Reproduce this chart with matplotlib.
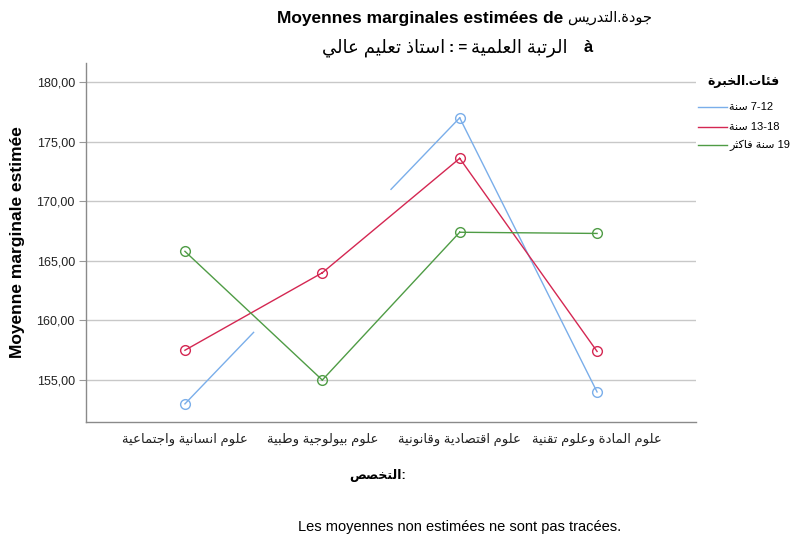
import numpy as np
import matplotlib
matplotlib.use("Agg")
import matplotlib.pyplot as plt
from matplotlib.lines import Line2D

plt.rcParams['font.family'] = ['Liberation Sans', 'DejaVu Sans']

# ---------------- minimal Arabic shaping (presentation forms) ----------------
_FORMS = {
    'ء': (0xFE80, 1), 'آ': (0xFE81, 2), 'أ': (0xFE83, 2), 'ؤ': (0xFE85, 2), 'إ': (0xFE87, 2),
    'ئ': (0xFE89, 4), 'ا': (0xFE8D, 2), 'ب': (0xFE8F, 4), 'ة': (0xFE93, 2), 'ت': (0xFE95, 4),
    'ث': (0xFE99, 4), 'ج': (0xFE9D, 4), 'ح': (0xFEA1, 4), 'خ': (0xFEA5, 4), 'د': (0xFEA9, 2),
    'ذ': (0xFEAB, 2), 'ر': (0xFEAD, 2), 'ز': (0xFEAF, 2), 'س': (0xFEB1, 4), 'ش': (0xFEB5, 4),
    'ص': (0xFEB9, 4), 'ض': (0xFEBD, 4), 'ط': (0xFEC1, 4), 'ظ': (0xFEC5, 4), 'ع': (0xFEC9, 4),
    'غ': (0xFECD, 4), 'ف': (0xFED1, 4), 'ق': (0xFED5, 4), 'ك': (0xFED9, 4), 'ل': (0xFEDD, 4),
    'م': (0xFEE1, 4), 'ن': (0xFEE5, 4), 'ه': (0xFEE9, 4), 'و': (0xFEED, 2), 'ى': (0xFEEF, 2),
    'ي': (0xFEF1, 4),
}
_LAM_ALEF = {'ا': 0xFEFB, 'أ': 0xFEF7, 'إ': 0xFEF9, 'آ': 0xFEF5}


def _shape(s):
    ch = list(s)
    n = len(ch)
    out = []
    i = 0
    while i < n:
        c = ch[i]
        if c not in _FORMS:
            out.append(c)
            i += 1
            continue
        prev = ch[i - 1] if i > 0 else None
        joins_prev = prev in _FORMS and _FORMS[prev][1] == 4
        if c == 'ل' and i + 1 < n and ch[i + 1] in _LAM_ALEF:
            out.append(chr(_LAM_ALEF[ch[i + 1]] + (1 if joins_prev else 0)))
            i += 2
            continue
        nxt = ch[i + 1] if i + 1 < n else None
        base, nf = _FORMS[c]
        joins_next = nf == 4 and nxt in _FORMS
        if nf == 1:
            f = 0
        elif joins_prev and joins_next:
            f = 3
        elif joins_prev:
            f = 1
        elif joins_next:
            f = 2
        else:
            f = 0
        out.append(chr(base + f))
        i += 1
    return ''.join(out)


def ar(s):
    """Shape an Arabic run and put it in visual (left-to-right) order."""
    return _shape(s)[::-1]


# ---------------- data ----------------
categories = ['علوم انسانية واجتماعية', 'علوم بيولوجية وطبية',
              'علوم اقتصادية وقانونية', 'علوم المادة وعلوم تقنية']
series_names = ['7-12', '13-18', '19']
series_words = ['سنة', 'سنة', 'سنة فاكثر']
means_7_12 = [153.0, np.nan, 177.0, 154.0]
means_13_18 = [157.5, 164.0, 173.6, 157.4]
means_19 = [165.8, 155.0, 167.4, 167.3]
yticks = [155, 160, 165, 170, 175, 180]

colors = ['#7aaeea', '#d42752', '#4f9c45']
all_series = [means_7_12, means_13_18, means_19]

W, H = 792, 539
fig = plt.figure(figsize=(W / 100, H / 100), dpi=100)
ax = fig.add_axes([86 / W, 1 - 422 / H, (696 - 86) / W, (422 - 63) / H])

x = np.arange(1, len(categories) + 1, dtype=float)


def spss_path(xv, yv):
    """SPSS replaces a missing mean by the mean of its neighbours and draws
    only the half-segments that touch estimated points."""
    yv = np.asarray(yv, dtype=float)
    filled = yv.copy()
    for i in range(len(yv)):
        if np.isnan(yv[i]):
            nb = [yv[j] for j in (i - 1, i + 1) if 0 <= j < len(yv) and not np.isnan(yv[j])]
            filled[i] = np.mean(nb) if nb else np.nan
    px, py = [], []
    for i in range(len(yv) - 1):
        a, b = yv[i], yv[i + 1]
        if not np.isnan(a) and not np.isnan(b):
            px += [xv[i], xv[i + 1], np.nan]
            py += [a, b, np.nan]
        elif not np.isnan(a):
            px += [xv[i], (xv[i] + xv[i + 1]) / 2, np.nan]
            py += [a, (a + filled[i + 1]) / 2, np.nan]
        elif not np.isnan(b):
            px += [(xv[i] + xv[i + 1]) / 2, xv[i + 1], np.nan]
            py += [(filled[i] + b) / 2, b, np.nan]
    return px, py


for vals, col in zip(all_series, colors):
    px, py = spss_path(x, vals)
    ax.plot(px, py, color=col, lw=1.0, zorder=3)
    ax.plot(x, vals, linestyle='none', marker='o', markersize=7,
            markerfacecolor='none', markeredgecolor=col, markeredgewidth=1.0, zorder=4)

ax.set_xlim(0.28, 4.72)
ax.set_ylim(151.48, 181.6)
ax.set_yticks(yticks)
ax.set_yticklabels([f"{v:.2f}".replace('.', ',') for v in yticks], fontsize=9, color='#222222')
ax.set_xticks(x)
ax.set_xticklabels([ar(c) for c in categories], fontsize=9.5, color='#222222')
ax.tick_params(axis='x', length=0, pad=8)
ax.tick_params(axis='y', length=5, color='#999999', pad=3)
ax.yaxis.grid(True, color='#c8c8c8', lw=1.0)
ax.set_axisbelow(True)
for s in ['top', 'right']:
    ax.spines[s].set_visible(False)
for s in ['left', 'bottom']:
    ax.spines[s].set_color('#8a8a8a')
    ax.spines[s].set_linewidth(1.0)

ax.set_ylabel('Moyenne marginale estimée', fontsize=12.5, fontweight='bold', labelpad=8)

# x axis title
fig.text(378 / W, 1 - 476 / H, ar('التخصص') + ':', ha='center', va='center',
         fontsize=9, fontweight='bold')

# titles
fig.text(563 / W, 1 - 18 / H, 'Moyennes marginales estimées de', ha='right',
         va='center', fontsize=12.5, fontweight='bold')
fig.text(567 / W, 1 - 18 / H, ar('جودة.التدريس'), ha='left', va='center', fontsize=10.5)

# subtitle: "à <variable> = <value>" laid out right-to-left
fig.text(445 / W, 1 - 48 / H, ar('استاذ تعليم عالي'), ha='right', va='center', fontsize=13)
fig.text(458 / W, 1 - 48 / H, ': =', ha='center', va='center', fontsize=11, fontweight='bold')
fig.text(471 / W, 1 - 48 / H, ar('الرتبة العلمية'), ha='left', va='center', fontsize=13)
fig.text(588 / W, 1 - 48 / H, 'à', ha='center', va='center', fontsize=12, fontweight='bold')

# footnote
fig.text(460 / W, 1 - 527 / H, 'Les moyennes non estimées ne sont pas tracées.',
         ha='center', va='center', fontsize=10.5)

# legend (drawn in figure coordinates)
fig.text(780 / W, 1 - 82 / H, ar('فئات.الخبرة'), ha='right', va='center',
         fontsize=9, fontweight='bold')
legend_y = [107, 127, 145]
for col, w, n, yy in zip(colors, series_words, series_names, legend_y):
    fig.add_artist(Line2D([698 / W, 727 / W], [1 - yy / H, 1 - yy / H], color=col, lw=1.0,
                          transform=fig.transFigure))
    fig.text(729 / W, 1 - yy / H, ar(w) + ' ' + n, ha='left', va='center', fontsize=8)

fig.savefig('out.png', dpi=100)
